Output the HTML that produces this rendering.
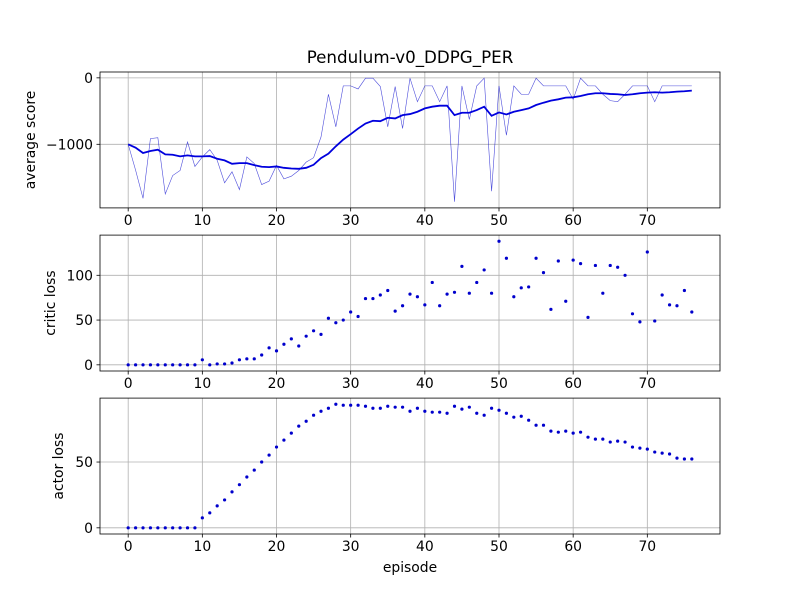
<!DOCTYPE html>
<html><head><meta charset="utf-8">
<style>
body{margin:0;background:#fff;}
svg{display:block;font-family:"DejaVu Sans","Liberation Sans",sans-serif;}
</style></head>
<body>
<svg id="fig" width="800" height="600" viewBox="0 0 800 600">
<rect width="800" height="600" fill="#fff"/>
<text x="410" y="63" font-size="16.7" text-anchor="middle">Pendulum-v0_DDPG_PER</text>
</svg>
<script>
const episodes = Array.from({length:77},(_,i)=>i);
const rawScore = [-1000,-1390,-1813,-914,-900,-1747,-1470,-1394,-965,-1333,-1190,-1080,-1240,-1580,-1414,-1682,-1190,-1290,-1606,-1555,-1318,-1520,-1480,-1394,-1268,-1202,-890,-247,-737,-121,-121,-167,-5,-5,-131,-737,-131,-762,-5,-359,-121,-121,-359,-121,-1864,-121,-626,-121,-5,-1707,-121,-864,-121,-247,-247,-5,-121,-121,-121,-121,-323,-5,-121,-121,-247,-343,-359,-247,-121,-121,-121,-359,-121,-121,-121,-121,-121];
const avgScore = [-1000,-1050,-1131,-1101,-1081,-1152,-1157,-1182,-1167,-1182,-1182,-1177,-1217,-1242,-1293,-1283,-1283,-1313,-1338,-1343,-1333,-1354,-1364,-1369,-1354,-1308,-1207,-1141,-1030,-929,-848,-763,-687,-646,-652,-601,-611,-561,-545,-510,-460,-434,-419,-419,-561,-525,-525,-485,-434,-571,-520,-551,-510,-485,-460,-409,-374,-343,-323,-298,-293,-273,-247,-232,-232,-242,-247,-258,-247,-232,-222,-217,-222,-217,-207,-202,-192];
const criticLoss = [0,0,0,0,0,0,0,0,0,0,5.6,0,1,1,2,5.6,6.7,6.7,11,19,15.6,23,29,21,32,38,34,52,47,50,59,54,74,74,78,83,60,66,79,76,67,92,66,79,81,110,80,92,106,80,138,119,76,86,87,119,103,62,116,71,117,113,53,111,80,111,109,100,57,48,126,49,78,67,66,83,59];
const actorLoss = [0,0,0,0,0,0,0,0,0,0,7.6,11.4,16.7,21.2,27.3,32.8,38.6,43.9,50,55.3,61.4,66.7,72,77.3,81,85.6,88.6,90.9,93.9,93.2,93.2,93.2,92.4,90.9,90.9,92.4,91.7,91.7,88.6,90.9,88.6,87.9,87.9,87.1,92.4,90.2,91.7,87.1,85.6,90.9,89.4,87.1,84.1,84.8,81.8,78,78,73.5,72.7,73.5,72,72.7,68.9,67.4,67.4,65.2,65.9,65.2,61.4,60.6,59.8,57.6,56.8,56.1,53,52.3,52.3];
const xTicks = [0,10,20,30,40,50,60,70];
const scoreTicks = [0,-1000];
const criticTicks = [0,50,100];
const actorTicks = [0,50];

const NS="http://www.w3.org/2000/svg";
const svg=document.getElementById('fig');
function mk(tag,attrs,parent){const e=document.createElementNS(NS,tag);for(const k in attrs)e.setAttribute(k,attrs[k]);(parent||svg).appendChild(e);return e;}
const L=100,R=720;
function ext(arr){let a=Math.min(...arr),b=Math.max(...arr);const m=(b-a)*0.05;return [a-m,b+m];}
const xr=ext(episodes);
const xs=v=>L+(v-xr[0])/(xr[1]-xr[0])*(R-L);
function fmt(v){return v<0?'\u2212'+Math.abs(v):String(v);}
const labelX={score:35,critic:55,actor:63};

function axes(name,top,bot,yr,yTicks,ylabel,showXLabel){
  const ys=v=>bot-(v-yr[0])/(yr[1]-yr[0])*(bot-top);
  const g=mk('g',{});
  
  
  xTicks.forEach(t=>{
    const gl=mk('line',{x1:xs(t),x2:xs(t),y1:top,y2:bot,stroke:'#b0b0b0','stroke-width':0.8},g);
    
    
    mk('line',{x1:xs(t),x2:xs(t),y1:bot,y2:bot+3.5,stroke:'#000','stroke-width':0.8},g);
    const tx=mk('text',{x:xs(t),y:bot+17,'font-size':13.9,'text-anchor':'middle'},g);
    tx.textContent=t;
    
    
  });
  yTicks.forEach(t=>{
    const gl=mk('line',{x1:L,x2:R,y1:ys(t),y2:ys(t),stroke:'#b0b0b0','stroke-width':0.8},g);
    
    
    mk('line',{x1:L-3.5,x2:L,y1:ys(t),y2:ys(t),stroke:'#000','stroke-width':0.8},g);
    const tx=mk('text',{x:L-7,y:ys(t)+5,'font-size':13.9,'text-anchor':'end'},g);
    tx.textContent=fmt(t);
    
    
  });
  const yl=mk('text',{transform:`translate(${labelX[name]},${(top+bot)/2}) rotate(-90)`,'font-size':13.9,'text-anchor':'middle'},g);
  yl.textContent=ylabel;
  
  
  if(showXLabel){
    const xl=mk('text',{x:(L+R)/2,y:bot+38,'font-size':13.9,'text-anchor':'middle'},g);
    xl.textContent='episode';
    
    
  }
  return {g,ys,frame:()=>{const f=mk('rect',{x:L,y:top,width:R-L,height:bot-top,fill:'none',stroke:'#000','stroke-width':0.8},g);
    
    }};
}
// score
const a1=axes('score',72,207.9,ext(rawScore.concat(avgScore)),scoreTicks,'average score',false);
const raw=mk('polyline',{points:rawScore.map((v,i)=>xs(episodes[i])+','+a1.ys(v)).join(' '),fill:'none',stroke:'#0000cc','stroke-opacity':0.7,'stroke-width':0.6},a1.g);


const avg=mk('polyline',{points:avgScore.map((v,i)=>xs(episodes[i])+','+a1.ys(v)).join(' '),fill:'none',stroke:'#0000dd','stroke-width':1.8},a1.g);


a1.frame();
// critic
const a2=axes('critic',235.1,371,ext(criticLoss),criticTicks,'critic loss',false);
criticLoss.forEach((v,i)=>{
  const c=mk('circle',{cx:xs(episodes[i]),cy:a2.ys(v),r:1.6,fill:'#0000cc'},a2.g);
  
  
});
a2.frame();
// actor
const a3=axes('actor',398.1,534,ext(actorLoss),actorTicks,'actor loss',true);
actorLoss.forEach((v,i)=>{
  const c=mk('circle',{cx:xs(episodes[i]),cy:a3.ys(v),r:1.6,fill:'#0000cc'},a3.g);
  
  
});
a3.frame();
</script>
</body></html>
